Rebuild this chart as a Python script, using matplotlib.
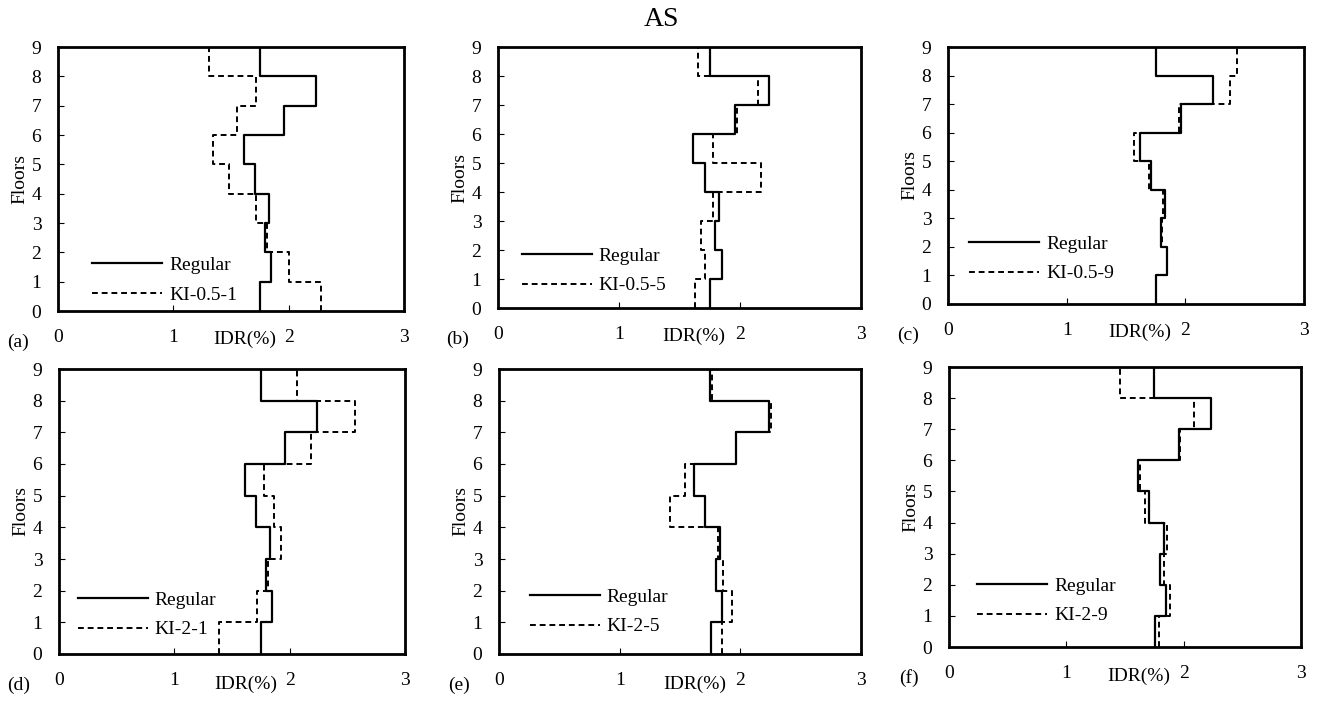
import numpy as np
import matplotlib.pyplot as plt

plt.rcParams['font.family'] = ['Liberation Serif', 'DejaVu Serif']

floors = np.arange(0, 10)

# storey IDR (%) for stories 1..9
regular = [1.755, 1.848, 1.797, 1.829, 1.708, 1.614, 1.960, 2.236, 1.750]

ki_05_1 = [2.284, 2.004, 1.816, 1.715, 1.484, 1.346, 1.551, 1.715, 1.311]
ki_05_5 = [1.632, 1.712, 1.676, 1.778, 2.175, 1.778, 1.977, 2.148, 1.652]
ki_05_9 = [1.754, 1.844, 1.800, 1.813, 1.690, 1.569, 1.945, 2.378, 2.437]
ki_2_1 = [1.387, 1.714, 1.815, 1.922, 1.861, 1.775, 2.185, 2.566, 2.064]
ki_2_5 = [1.846, 1.935, 1.857, 1.816, 1.420, 1.542, 1.960, 2.256, 1.769]
ki_2_9 = [1.786, 1.880, 1.829, 1.854, 1.673, 1.627, 1.965, 2.090, 1.460]

series = [ki_05_1, ki_05_5, ki_05_9, ki_2_1, ki_2_5, ki_2_9]
names = ["KI-0.5-1", "KI-0.5-5", "KI-0.5-9", "KI-2-1", "KI-2-5", "KI-2-9"]
tags = ["(a)", "(b)", "(c)", "(d)", "(e)", "(f)"]

W, H = 1320, 703
# axes boxes in pixels: left, right, top, bottom
boxes = [
    (58, 404, 47, 311),
    (498, 861, 47, 308),
    (948, 1304, 47, 304),
    (59, 405, 369, 654),
    (499, 861, 369, 654),
    (949, 1301, 367, 647),
]
# legend anchors (axes fraction), hand-tuned per panel
leg_pos = [(0.049, -0.038), (0.017, -0.015), (0.011, 0.016),
           (0.003, -0.007), (0.036, 0.004), (0.031, 0.018)]

fig = plt.figure(figsize=(W / 100, H / 100), dpi=100)


def staircase(vals):
    # vertical segment per storey, joined by horizontal steps
    xs, ys = [], []
    for i, v in enumerate(vals):
        xs += [v, v]
        ys += [floors[i], floors[i + 1]]
    return xs, ys


for k in range(6):
    l, r, t, b = boxes[k]
    ax = fig.add_axes([l / W, 1 - b / H, (r - l) / W, (b - t) / H])
    xs, ys = staircase(regular)
    ax.plot(xs, ys, color='black', lw=1.6, label='Regular')
    xs, ys = staircase(series[k])
    ax.plot(xs, ys, color='black', lw=1.4, ls=(0, (3, 2)), label=names[k])
    ax.set_xlim(0, 3)
    ax.set_ylim(0, 9)
    ax.set_xticks([0, 1, 2, 3])
    ax.set_yticks(range(10))
    ax.tick_params(direction='in', length=4, width=0.8, labelsize=14)
    ax.tick_params(axis='x', pad=13)
    ax.tick_params(axis='y', pad=12)
    for s in ax.spines.values():
        s.set_linewidth(2)
    ax.set_xlabel('IDR(%)', fontsize=14)
    ax.xaxis.set_label_coords(0.54, -0.075)
    ax.set_ylabel('Floors', fontsize=14, labelpad=2)
    ax.legend(loc='lower left', frameon=False, fontsize=14, handlelength=3.6,
              handletextpad=0.35, labelspacing=0.6, bbox_to_anchor=leg_pos[k])
    fig.text((l - 40) / W, 1 - (b + 31) / H, tags[k], fontsize=14, ha='center', va='center')

fig.text(661 / W, 1 - 20 / H, 'AS', fontsize=20, ha='center', va='center')

fig.savefig('out.png', dpi=100)
